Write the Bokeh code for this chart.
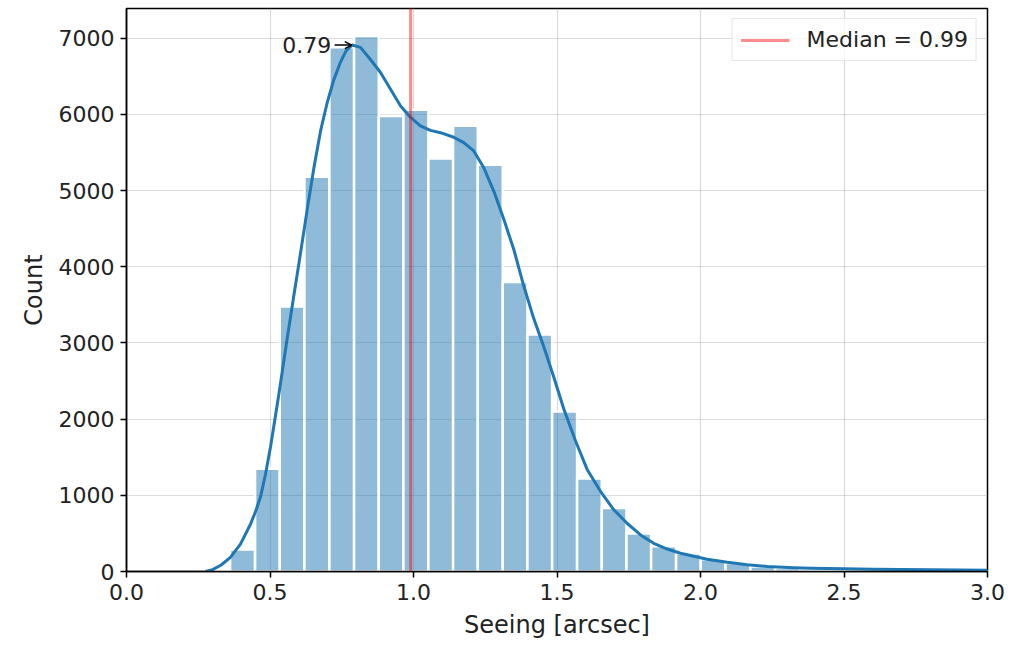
import math
from bokeh.plotting import figure
from bokeh.models import (Range1d, SingleIntervalTicker, PrintfTickFormatter,
                          Legend, LegendItem, Label, Arrow, OpenHead)
from bokeh.embed import file_html
from bokeh.resources import INLINE

# ---- data ----
bin_edges = [0.275, 0.361, 0.448, 0.534, 0.620, 0.707, 0.793, 0.879, 0.965, 1.052,
             1.138, 1.224, 1.311, 1.397, 1.483, 1.570, 1.656, 1.742, 1.828, 1.915,
             2.001, 2.087, 2.174, 2.260, 2.346, 2.432, 2.519, 2.605, 2.691, 2.778,
             2.864, 2.950, 3.036]
counts = [15, 290, 1350, 3480, 5180, 6880, 7030, 5980, 6060, 5420,
          5850, 5340, 3800, 3110, 2100, 1220, 833, 500, 330, 237,
          160, 110, 66, 45, 30, 22, 16, 12, 9, 7,
          5, 4]

kde_x = [0.275, 0.30, 0.33, 0.362, 0.397, 0.432, 0.450, 0.467, 0.484, 0.502,
         0.519, 0.531, 0.560, 0.583, 0.606, 0.630, 0.653, 0.676, 0.699, 0.722,
         0.746, 0.766, 0.786, 0.815, 0.850, 0.885, 0.920, 0.955, 0.990, 1.024,
         1.059, 1.094, 1.140, 1.175, 1.210, 1.245, 1.280, 1.315, 1.350, 1.384,
         1.419, 1.454, 1.489, 1.524, 1.564, 1.605, 1.652, 1.698, 1.745, 1.791,
         1.837, 1.884, 1.930, 1.977, 2.023, 2.093, 2.163, 2.232, 2.325, 2.383,
         2.50, 2.60, 2.70, 2.80, 2.90, 3.00]
kde_y = [0, 25, 85, 185, 360, 620, 790, 980, 1270, 1640,
         2040, 2330, 3060, 3620, 4170, 4760, 5300, 5780, 6150, 6450,
         6690, 6840, 6910, 6880, 6720, 6550, 6330, 6110, 5960, 5850,
         5790, 5760, 5700, 5630, 5520, 5300, 4990, 4620, 4220, 3750,
         3320, 2950, 2550, 2130, 1720, 1340, 1050, 810, 630, 480,
         370, 295, 240, 200, 160, 120, 88, 66, 49, 43,
         35, 30, 25, 22, 20, 18]

median = 0.99
peak_x = 0.79
peak_y = 6910
median_label = "Median = 0.99"
peak_label = "0.79"
x_label = "Seeing [arcsec]"
y_label = "Count"

FONT = "DejaVu Sans"
BLUE = "#1f77b4"
TXT = "#222222"

p = figure(width=1021, height=645, output_backend="svg", toolbar_location=None,
           x_range=Range1d(0, 3.0), y_range=Range1d(0, 7390),
           min_border_left=126, min_border_right=34, min_border_top=8,
           min_border_bottom=74)

p.quad(left=bin_edges[:-1], right=bin_edges[1:], bottom=0, top=counts,
       fill_color=BLUE, fill_alpha=0.5, line_color="white", line_width=2.5)

p.line(kde_x, kde_y, line_color=BLUE, line_width=3, line_join="round")

median_r = p.ray(x=[median], y=[0], length=0, angle=math.pi / 2,
                 line_color="red", line_alpha=0.45, line_width=3)

legend = Legend(items=[LegendItem(label=median_label, renderers=[median_r])],
                location="top_right", label_text_font=FONT, label_text_font_size="22px",
                label_text_color=TXT, glyph_width=49, label_standoff=17,
                border_line_color="#cccccc", border_line_width=1.5,
                background_fill_alpha=0.8, padding=8, margin=10, spacing=0,
                label_height=24, glyph_height=24)
p.add_layout(legend)

p.add_layout(Label(x=peak_x, y=peak_y, x_offset=-22, text=peak_label,
                   text_align="right", text_baseline="middle",
                   text_font=FONT, text_font_size="22px", text_color=TXT))
p.add_layout(Arrow(end=OpenHead(size=7, line_width=1.5, line_color="black"),
                   x_start=peak_x - 0.065, y_start=peak_y, x_end=peak_x - 0.005, y_end=peak_y,
                   line_width=1.5, line_color="black"))

p.xaxis.ticker = SingleIntervalTicker(interval=0.5)
p.xaxis.formatter = PrintfTickFormatter(format="%.1f")
p.yaxis.ticker = SingleIntervalTicker(interval=1000)
p.yaxis.formatter = PrintfTickFormatter(format="%d")
p.xaxis.axis_label = x_label
p.yaxis.axis_label = y_label

for ax in (p.xaxis[0], p.yaxis[0]):
    ax.axis_label_text_font = FONT
    ax.axis_label_text_font_size = "24px"
    ax.axis_label_text_font_style = "normal"
    ax.axis_label_text_color = TXT
    ax.major_label_text_font = FONT
    ax.major_label_text_font_size = "22px"
    ax.major_label_text_color = TXT
    ax.major_tick_out = 6
    ax.major_tick_in = 0
    ax.minor_tick_out = 0
    ax.minor_tick_in = 0
    ax.axis_line_color = "black"
    ax.axis_line_width = 1.5
    ax.major_tick_line_color = "black"
    ax.major_tick_line_width = 1.5
    ax.major_label_standoff = 6
    ax.axis_label_standoff = 8

p.grid.grid_line_color = "#b0b0b0"
p.grid.grid_line_alpha = 0.45
p.grid.grid_line_width = 1.2
p.outline_line_color = "black"
p.outline_line_width = 1.5
p.outline_line_alpha = 1.0

open("out.html", "w").write(file_html(p, INLINE))
